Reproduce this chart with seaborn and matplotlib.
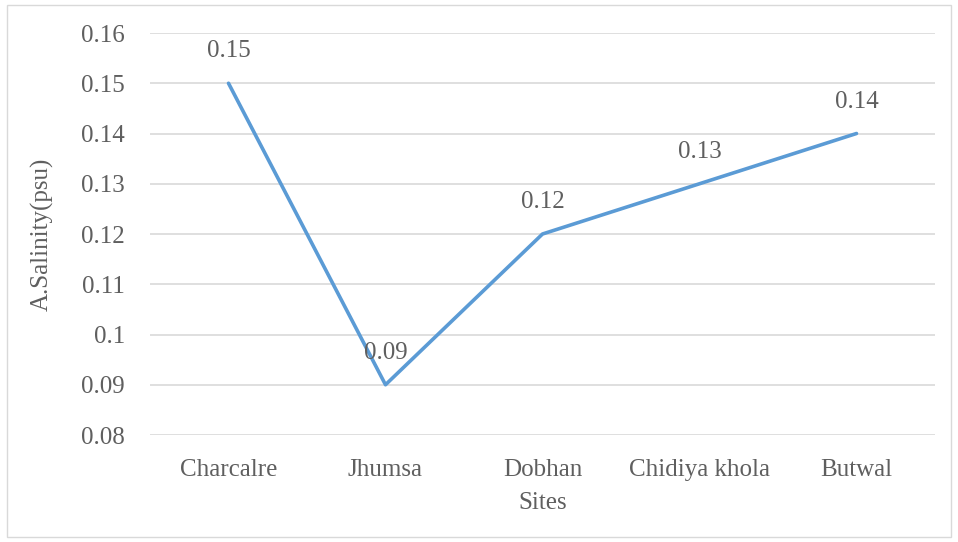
import matplotlib
matplotlib.use("Agg")
import matplotlib.pyplot as plt
import seaborn as sns
import pandas as pd
from matplotlib.patches import Rectangle

sites = ["Charcalre", "Jhumsa", "Dobhan", "Chidiya khola", "Butwal"]
salinity = [0.15, 0.09, 0.12, 0.13, 0.14]
y_ticks = [0.08, 0.09, 0.1, 0.11, 0.12, 0.13, 0.14, 0.15, 0.16]
y_tick_labels = ["0.08", "0.09", "0.1", "0.11", "0.12", "0.13", "0.14", "0.15", "0.16"]

df = pd.DataFrame({"Sites": sites, "Salinity": salinity})

sns.set_theme(style="white")
plt.rcParams["font.family"] = ["Liberation Serif", "DejaVu Serif"]

text_color = "#5f5f5f"
grid_color = "#d9d9d9"
line_color = "#5b9bd5"
fs = 18

fig = plt.figure(figsize=(9.58, 5.42), dpi=100)
ax = fig.add_axes([150 / 958, 1 - 435 / 542, (935 - 150) / 958, (435 - 33) / 542])

sns.lineplot(data=df, x="Sites", y="Salinity", ax=ax, color=line_color,
             linewidth=2.6, sort=False)

ax.set_xlim(-0.5, len(sites) - 0.5)
ax.set_ylim(0.08, 0.16)
ax.set_yticks(y_ticks)
ax.set_yticklabels(y_tick_labels)
ax.yaxis.grid(True, color=grid_color, linewidth=1.2)
ax.set_axisbelow(True)
for side in ["top", "right", "left", "bottom"]:
    ax.spines[side].set_visible(False)
ax.tick_params(axis="both", length=0, labelsize=fs, colors=text_color)
ax.tick_params(axis="y", pad=18)
ax.tick_params(axis="x", pad=17)

ax.set_xlabel("Sites", fontsize=fs, color=text_color, labelpad=8)
ax.set_ylabel("A.Salinity(psu)", fontsize=fs, color=text_color, labelpad=20)

for i, v in enumerate(salinity):
    ax.annotate(f"{v:.2f}", (i, v), xytext=(0, 23), textcoords="offset points",
                ha="center", va="center", fontsize=fs, color=text_color)

fig.patches.append(Rectangle((7 / 958, 1 - 537 / 542), (951 - 7) / 958, (537 - 5) / 542,
                             transform=fig.transFigure, fill=False,
                             edgecolor="#d9d9d9", linewidth=1.0))

fig.savefig("out.png", dpi=100)
